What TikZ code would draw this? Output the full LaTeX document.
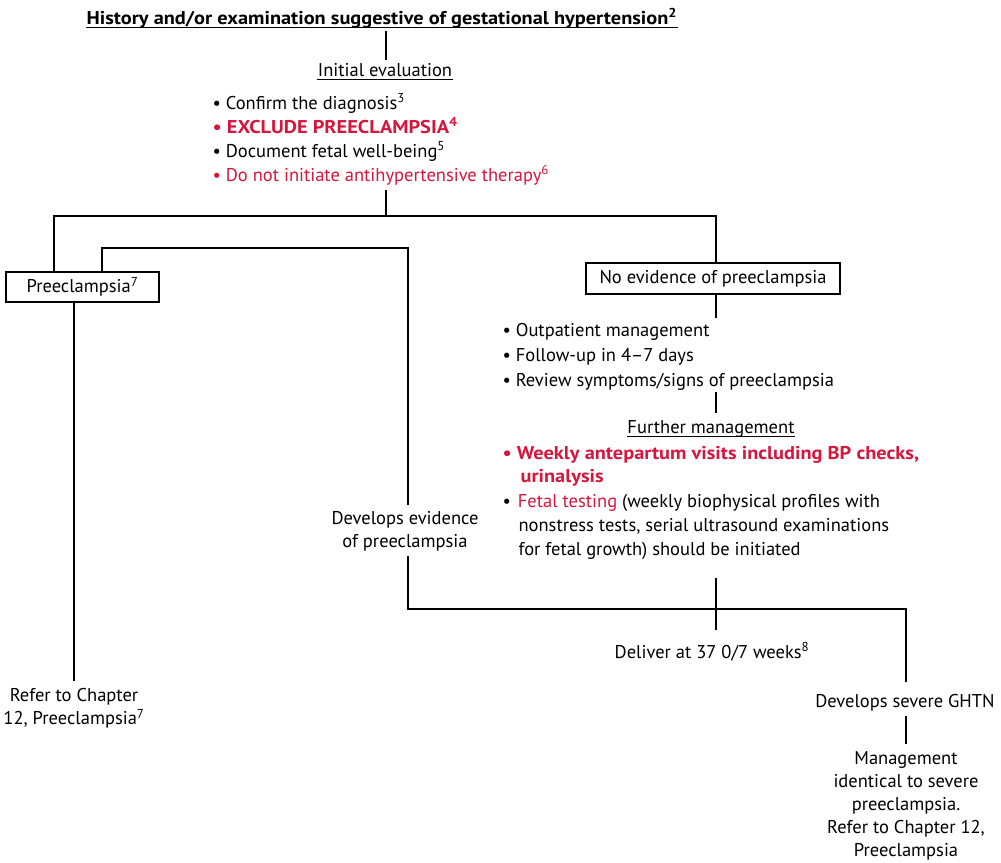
\documentclass[tikz,border=0pt]{standalone}
\usepackage{fontspec}
\setmainfont{PT Sans}[BoldFeatures={FakeStretch=1.1}]
\definecolor{accent}{RGB}{214,22,60}
\begin{document}
\begin{tikzpicture}[x=1pt,y=-1pt,line width=1.1pt,
  body/.style={inner sep=0pt,font=\fontsize{18.5}{23}\selectfont},
  lead/.style={body,anchor=base west},
  hot/.style={text=accent},
  hotbold/.style={text=accent,font=\fontsize{18.5}{23}\selectfont\bfseries},
  box/.style={draw,inner sep=0pt,font=\fontsize{18.5}{23}\selectfont},
  centred/.style={body,align=center}]
\useasboundingbox (0,0) rectangle (1001,862);

% heading and initial evaluation
\node[lead,font=\fontsize{18.5}{23}\selectfont\bfseries] (title) at (86,24)
  {History and/or examination suggestive of gestational hypertension\textsuperscript{2}};
\draw ([yshift=-3.5pt]title.base west) -- ([yshift=-3.5pt]title.base east);
\node[body,anchor=base] (init) at (385,76) {Initial evaluation};
\draw ([yshift=-3.5pt]init.base west) -- ([yshift=-3.5pt]init.base east);
\coordinate (t1) at (386,31);
\coordinate (t2) at (386,60);
\draw (t1) -- (t2);

\node[lead] (e1) at (212,109) {• Confirm the diagnosis\textsuperscript{3}};
\node[lead,hotbold] (e2) at (212,133) {• EXCLUDE PREECLAMPSIA\textsuperscript{4}};
\node[lead] (e3) at (212,157) {• Document fetal well-being\textsuperscript{5}};
\node[lead,hot] (e4) at (212,181) {• Do not initiate antihypertensive therapy\textsuperscript{6}};

% first split
\node[box,minimum width=153pt,minimum height=30pt] (pre) at (82.5,287) {Preeclampsia\textsuperscript{7}};
\node[box,minimum width=254pt,minimum height=31pt] (none) at (713,278.5) {No evidence of preeclampsia};
\coordinate (s0) at (386,190);
\coordinate (split) at (386,216);
\coordinate (preL) at (54,272);
\coordinate (noneT) at (716,263);
\draw (s0) -- (split);
\draw (preL) |- (split) -| (noneT);

% outpatient branch
\coordinate (o0) at (716,294);
\coordinate (o1) at (716,318);
\draw (o0) -- (o1);
\node[lead] (b1) at (502,336) {• Outpatient management};
\node[lead] (b2) at (502,361) {• Follow-up in 4–7 days};
\node[lead] (b3) at (502,386) {• Review symptoms/signs of preeclampsia};
\coordinate (f0) at (716,392);
\coordinate (f1) at (716,413);
\draw (f0) -- (f1);
\node[body,anchor=base] (further) at (711,433) {Further management};
\draw ([yshift=-3.5pt]further.base west) -- ([yshift=-3.5pt]further.base east);
\node[lead,hotbold] (w1) at (502,459) {• Weekly antepartum visits including BP checks,};
\node[lead,hotbold] (w2) at (520,482) {urinalysis};
\node[lead] (w3) at (502,507) {•\hspace{7pt}\textcolor{accent}{Fetal testing} (weekly biophysical profiles with};
\node[lead] (w4) at (518,531) {nonstress tests, serial ultrasound examinations};
\node[lead] (w5) at (518,555) {for fetal growth) should be initiated};

% return to preeclampsia pathway
\node[centred,anchor=north] (dev) at (405,511) {Develops evidence\\of preeclampsia};
\coordinate (p1) at (102,272);
\coordinate (p2) at (408,248);
\coordinate (p3) at (408,505);
\draw (p1) |- (p2) -- (p3);

\node[centred,anchor=north] (refer) at (74,688) {Refer to Chapter\\12, Preeclampsia\textsuperscript{7}};
\coordinate (r0) at (74,302);
\coordinate (r1) at (74,681);
\draw (r0) -- (r1);

% delivery and severe disease
\coordinate (d0) at (408,556);
\coordinate (join) at (716,609);
\coordinate (g1) at (906,682);
\coordinate (d1) at (716,578);
\coordinate (d2) at (716,630);
\draw (d0) |- (join) -| (g1);
\draw (d1) -- (d2);
\node[body,anchor=base] (deliver) at (712,658) {Deliver at 37 0/7 weeks\textsuperscript{8}};
\node[body,anchor=base] (severe) at (905,707) {Develops severe GHTN};
\coordinate (m0) at (906,716);
\coordinate (m1) at (906,744);
\draw (m0) -- (m1);
\node[centred,anchor=north] (manage) at (906,751)
  {Management\\identical to severe\\preeclampsia.\\Refer to Chapter 12,\\Preeclampsia};
\end{tikzpicture}
\end{document}
